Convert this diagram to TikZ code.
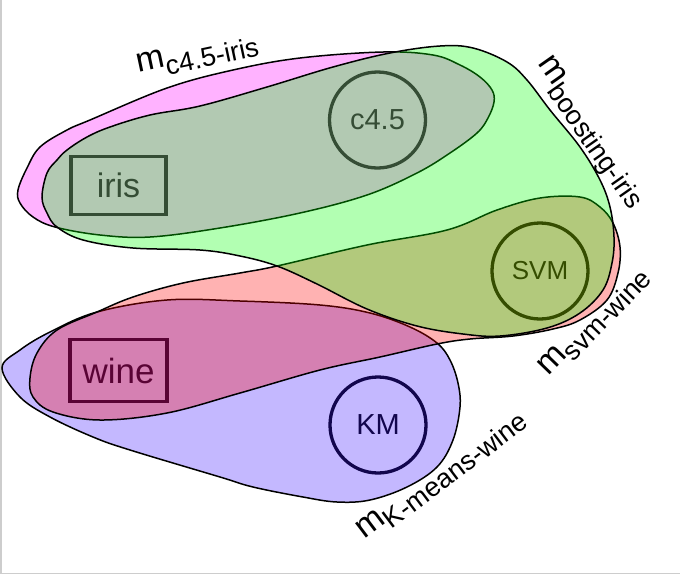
\documentclass[tikz,border=0pt]{standalone}
\usepackage{fontspec}
\setmainfont{Liberation Sans}
\definecolor{cpink}{RGB}{255,0,255}
\definecolor{cgreen}{RGB}{0,255,0}
\definecolor{cred}{RGB}{255,0,0}
\definecolor{cblue}{RGB}{60,20,255}
\definecolor{frameg}{RGB}{205,205,205}
\newcommand{\mlab}[1]{{\fontsize{34}{34}\selectfont m}\raisebox{-8.5pt}{\fontsize{27}{27}\selectfont #1}}
\tikzset{
  blob/.style={draw=black, line width=1.5pt, fill opacity=0.3},
  dsbox/.style={draw=black, line width=3.3pt, inner sep=0pt},
  algo/.style={circle, draw=black, line width=3.3pt, minimum size=96pt, inner sep=0pt},
  mlabel/.style={anchor=base west, inner sep=0pt},
}
\begin{document}
\begin{tikzpicture}[x=1pt,y=-1pt]
\useasboundingbox (0,0) rectangle (680,574);
\draw[frameg, line width=1.5pt] (0.75,0) -- (0.75,573.25) -- (680,573.25);
% nodes (drawn first, tinted by the sets)
\node[dsbox, minimum width=95pt, minimum height=58pt, font=\fontsize{34}{34}\selectfont] (iris) at (118.5,185.5) {iris};
\node[dsbox, minimum width=97pt, minimum height=62pt, font=\fontsize{35}{35}\selectfont] (wine) at (118.5,370.5) {wine};
\node[algo, font=\fontsize{29}{29}\selectfont] (c45) at (377.5,120) {c4.5};
\node[algo, font=\fontsize{26}{26}\selectfont] (svm) at (540,271) {SVM};
\node[algo, font=\fontsize{29}{29}\selectfont] (km) at (378,425) {KM};
% m_c4.5-iris
\draw[blob, fill=cpink] plot[smooth cycle, tension=0.6] coordinates {
 (18,190) (27,168) (40,147) (67,130) (90,120) (167,88) (233,70) (300,58) (383,52)
 (433,55) (460,65) (480,77) (492,90) (494,102) (488,118) (477,133) (450,153) (417,173)
 (367,195) (300,213) (220,228) (150,237) (100,235) (55,227) (33,217) (20,203)};
% m_K-means-wine
\draw[blob, fill=cblue] plot[smooth cycle, tension=0.6] coordinates {
 (2,368) (20,350) (50,332) (97,312) (167,300) (240,301) (320,305) (370,313) (410,327)
 (437,343) (450,360) (458,383) (460,407) (453,440) (437,467) (407,487) (370,500)
 (337,502) (303,497) (253,487) (220,477) (130,450) (93,437) (50,417) (20,397)};
% m_svm-wine
\draw[blob, fill=cred] plot[smooth cycle, tension=0.6] coordinates {
 (30,378) (37,353) (57,330) (97,312) (133,297) (183,283) (240,273) (277,266) (367,245)
 (447,230) (497,210) (540,198) (580,197) (600,207) (613,223) (620,247) (618,273)
 (607,300) (580,320) (553,329) (513,336) (470,339) (437,344) (380,357) (320,370)
 (240,393) (167,413) (100,420) (53,412) (33,397)};
% m_boosting-iris
\draw[blob, fill=cgreen] plot[smooth cycle, tension=0.6] coordinates {
 (42,197) (47,173) (57,160) (67,150) (87,137) (110,127) (150,115) (200,106) (267,87)
 (333,67) (390,53) (440,46) (473,48) (507,62) (527,80) (550,110) (580,147) (600,180)
 (610,207) (614,237) (612,263) (603,290) (580,313) (547,328) (500,336) (463,334)
 (417,326) (367,309) (317,284) (277,266) (240,256) (200,250) (133,248) (83,240)
 (57,227) (47,213)};
% labels
\node[mlabel, rotate=12] (lc45) at (138,73) {\mlab{c4.5-iris}};
\node[mlabel, rotate=-55] (lboost) at (537,63) {\mlab{boosting-iris}};
\node[mlabel, rotate=46] (lsvm) at (548,377) {\mlab{svm-wine}};
\node[mlabel, rotate=37] (lkm) at (364,540) {\mlab{K-means-wine}};
\end{tikzpicture}
\end{document}
